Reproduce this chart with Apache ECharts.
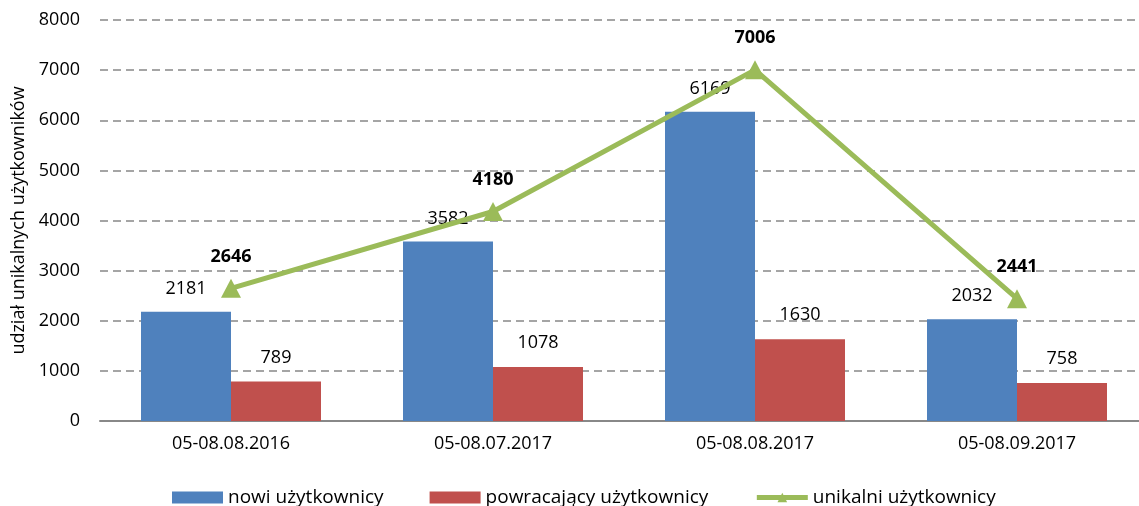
<!DOCTYPE html>
<html><head><meta charset="utf-8">
<script src="https://cdn.jsdelivr.net/npm/echarts@6/dist/echarts.min.js"></script>
<style>html,body{margin:0;padding:0;background:#fff}#c{width:1139px;height:506px}</style>
</head><body><div id="c"></div>
<script>
const categories = ['05-08.08.2016', '05-08.07.2017', '05-08.08.2017', '05-08.09.2017'];
const nowi = [2181, 3582, 6169, 2032];
const powracajacy = [789, 1078, 1630, 758];
const unikalni = [2646, 4180, 7006, 2441];
const yTicks = {min: 0, max: 8000, interval: 1000};
const font = '"Open Sans", "Noto Sans", sans-serif';
const chart = echarts.init(document.getElementById('c'));
chart.setOption({
  animation: false,
  textStyle: {fontFamily: font},
  grid: {left: 100, width: 1048, top: 20, height: 401, containLabel: false, outerBoundsMode: 'none'},
  legend: {
    top: 488, left: 172, padding: 0, itemGap: 46, itemWidth: 51, itemHeight: 12,
    textStyle: {fontSize: 19, color: '#000', fontFamily: font},
    data: [
      {name: 'nowi użytkownicy', icon: 'rect'},
      {name: 'powracający użytkownicy', icon: 'rect'},
      {name: 'unikalni użytkownicy', lineStyle: {width: 5, color: '#9BBB59'}, itemStyle: {color: '#9BBB59'}}
    ]
  },
  xAxis: {
    type: 'category', data: categories,
    axisLine: {lineStyle: {color: '#888', width: 2}},
    axisTick: {show: false},
    axisLabel: {fontSize: 18, color: '#000', margin: 14}
  },
  yAxis: {
    type: 'value', min: yTicks.min, max: yTicks.max, interval: yTicks.interval,
    name: 'udział unikalnych użytkowników', nameLocation: 'middle', nameGap: 67,
    nameTextStyle: {fontSize: 18, color: '#000'},
    axisLabel: {fontSize: 18, color: '#000', margin: 20, formatter: v => String(v)},
    axisLine: {show: false}, axisTick: {show: false},
    splitLine: {lineStyle: {color: '#888', type: [8, 5], width: 1.5}}
  },
  series: [
    {name: 'nowi użytkownicy', type: 'bar', data: nowi, barGap: '0%', barCategoryGap: '31.3%',
      itemStyle: {color: '#4F81BD'},
      label: {show: true, position: 'top', distance: 14, fontSize: 18, color: '#000'}},
    {name: 'powracający użytkownicy', type: 'bar', data: powracajacy,
      itemStyle: {color: '#C0504D'},
      label: {show: true, position: 'top', distance: 15, fontSize: 18, color: '#000'}},
    {name: 'unikalni użytkownicy', type: 'line', data: unikalni,
      symbol: 'triangle', symbolSize: [20, 19],
      lineStyle: {color: '#9BBB59', width: 5},
      itemStyle: {color: '#9BBB59'},
      label: {show: true, position: 'top', distance: 13, fontSize: 18, fontWeight: 'bold', color: '#000'}}
  ]
});
</script></body></html>
